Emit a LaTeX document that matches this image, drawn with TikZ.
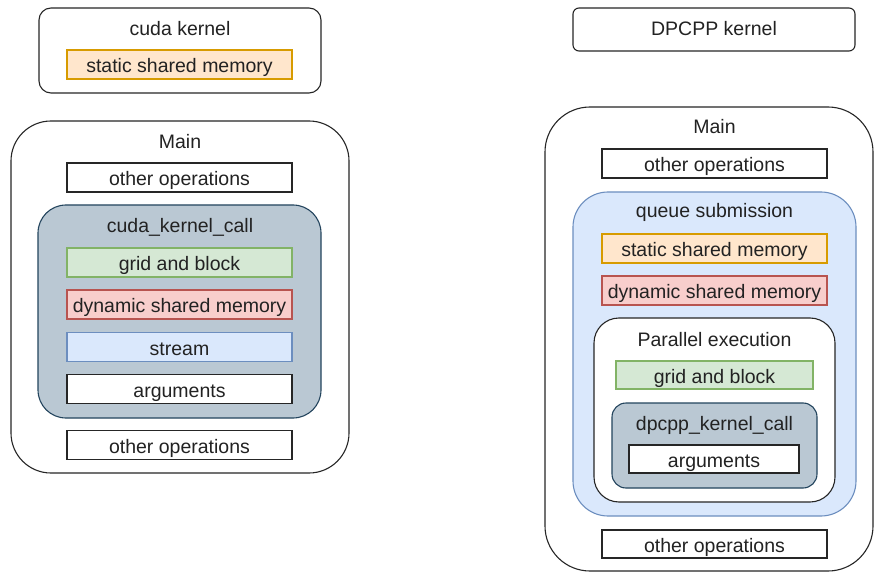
\documentclass[tikz,border=0pt]{standalone}
\usepackage{fontspec}
\setmainfont{Liberation Sans}
\definecolor{orfill}{HTML}{FFE6CC}\definecolor{ordraw}{HTML}{D79B00}
\definecolor{grfill}{HTML}{D5E8D4}\definecolor{grdraw}{HTML}{82B366}
\definecolor{rdfill}{HTML}{F8CECC}\definecolor{rddraw}{HTML}{B85450}
\definecolor{blfill}{HTML}{DAE8FC}\definecolor{bldraw}{HTML}{6C8EBF}
\definecolor{slfill}{HTML}{BAC8D3}\definecolor{sldraw}{HTML}{23445D}
\definecolor{txt}{HTML}{222222}
\tikzset{
  base/.style={draw, line width=1.1pt, inner sep=0pt, outer sep=0pt, text=txt,
    font=\fontsize{19.5}{23}\selectfont, text height=18pt, text depth=2pt},
  item/.style={base, minimum width=225pt, minimum height=29pt},
  plain/.style={item, fill=white, draw=black!85},
  orange/.style={item, fill=orfill, draw=ordraw},
  green/.style={item, fill=grfill, draw=grdraw},
  red/.style={item, fill=rdfill, draw=rddraw},
  blue/.style={item, fill=blfill, draw=bldraw},
  cont/.style={base, draw=black!85, fill=white},
  title/.style={inner sep=0pt, text=txt, font=\fontsize{19.5}{23}\selectfont,
    text height=18pt, text depth=2pt},
}
\begin{document}
\begin{tikzpicture}[x=1pt,y=-1pt]
\useasboundingbox (0,0) rectangle (875,572);
% ---------- left ----------
\node[cont, rounded corners=12pt, minimum width=282pt, minimum height=85pt] (ck) at (180,50.5) {};
\node[title] (cktitle) at (180,28) {cuda kernel};
\node[orange] (ssm1) at (179.5,64.5) {static shared memory};

\node[cont, rounded corners=40pt, minimum width=338pt, minimum height=352pt] (main1) at (180,297) {};
\node[title] (main1title) at (180,141) {Main};
\node[plain] (oo1) at (179.5,177.5) {other operations};

\node[base, fill=slfill, draw=sldraw, rounded corners=28pt, minimum width=283pt, minimum height=213pt] (kc) at (179.5,311.5) {};
\node[title] (kctitle) at (180,225) {cuda\_kernel\_call};
\node[green] (gb1) at (179.5,262.5) {grid and block};
\node[red] (dsm1) at (179.5,304.5) {dynamic shared memory};
\node[blue] (stream) at (179.5,347) {stream};
\node[plain] (args1) at (179.5,389) {arguments};
\node[plain] (oo2) at (179.5,445) {other operations};
% ---------- right ----------
\node[cont, rounded corners=6pt, minimum width=282pt, minimum height=43pt] (dk) at (714,29.5) {};
\node[title] (dktitle) at (714,28) {DPCPP kernel};

\node[cont, rounded corners=45pt, minimum width=328pt, minimum height=464pt] (main2) at (709,339) {};
\node[title] (main2title) at (714.5,126) {Main};
\node[plain] (oo3) at (714.5,163.5) {other operations};

\node[base, fill=blfill, draw=bldraw, rounded corners=35pt, minimum width=283pt, minimum height=324pt] (qs) at (714.5,354) {};
\node[title] (qstitle) at (714.5,210) {queue submission};
\node[orange] (ssm2) at (714.5,248.5) {static shared memory};
\node[red] (dsm2) at (714.5,290.5) {dynamic shared memory};

\node[cont, rounded corners=25pt, minimum width=241pt, minimum height=184pt] (pe) at (714.5,410) {};
\node[title] (petitle) at (714.5,338) {Parallel execution};
\node[green, minimum width=197pt, minimum height=28pt] (gb2) at (714.5,375) {grid and block};

\node[base, fill=slfill, draw=sldraw, rounded corners=14pt, minimum width=205pt, minimum height=85pt] (dkc) at (714.5,445.5) {};
\node[title] (dkctitle) at (714.5,422) {dpcpp\_kernel\_call};
\node[plain, minimum width=170pt, minimum height=28pt] (args2) at (714,459) {arguments};

\node[plain, minimum height=28pt] (oo4) at (714.5,544) {other operations};
\end{tikzpicture}
\end{document}
